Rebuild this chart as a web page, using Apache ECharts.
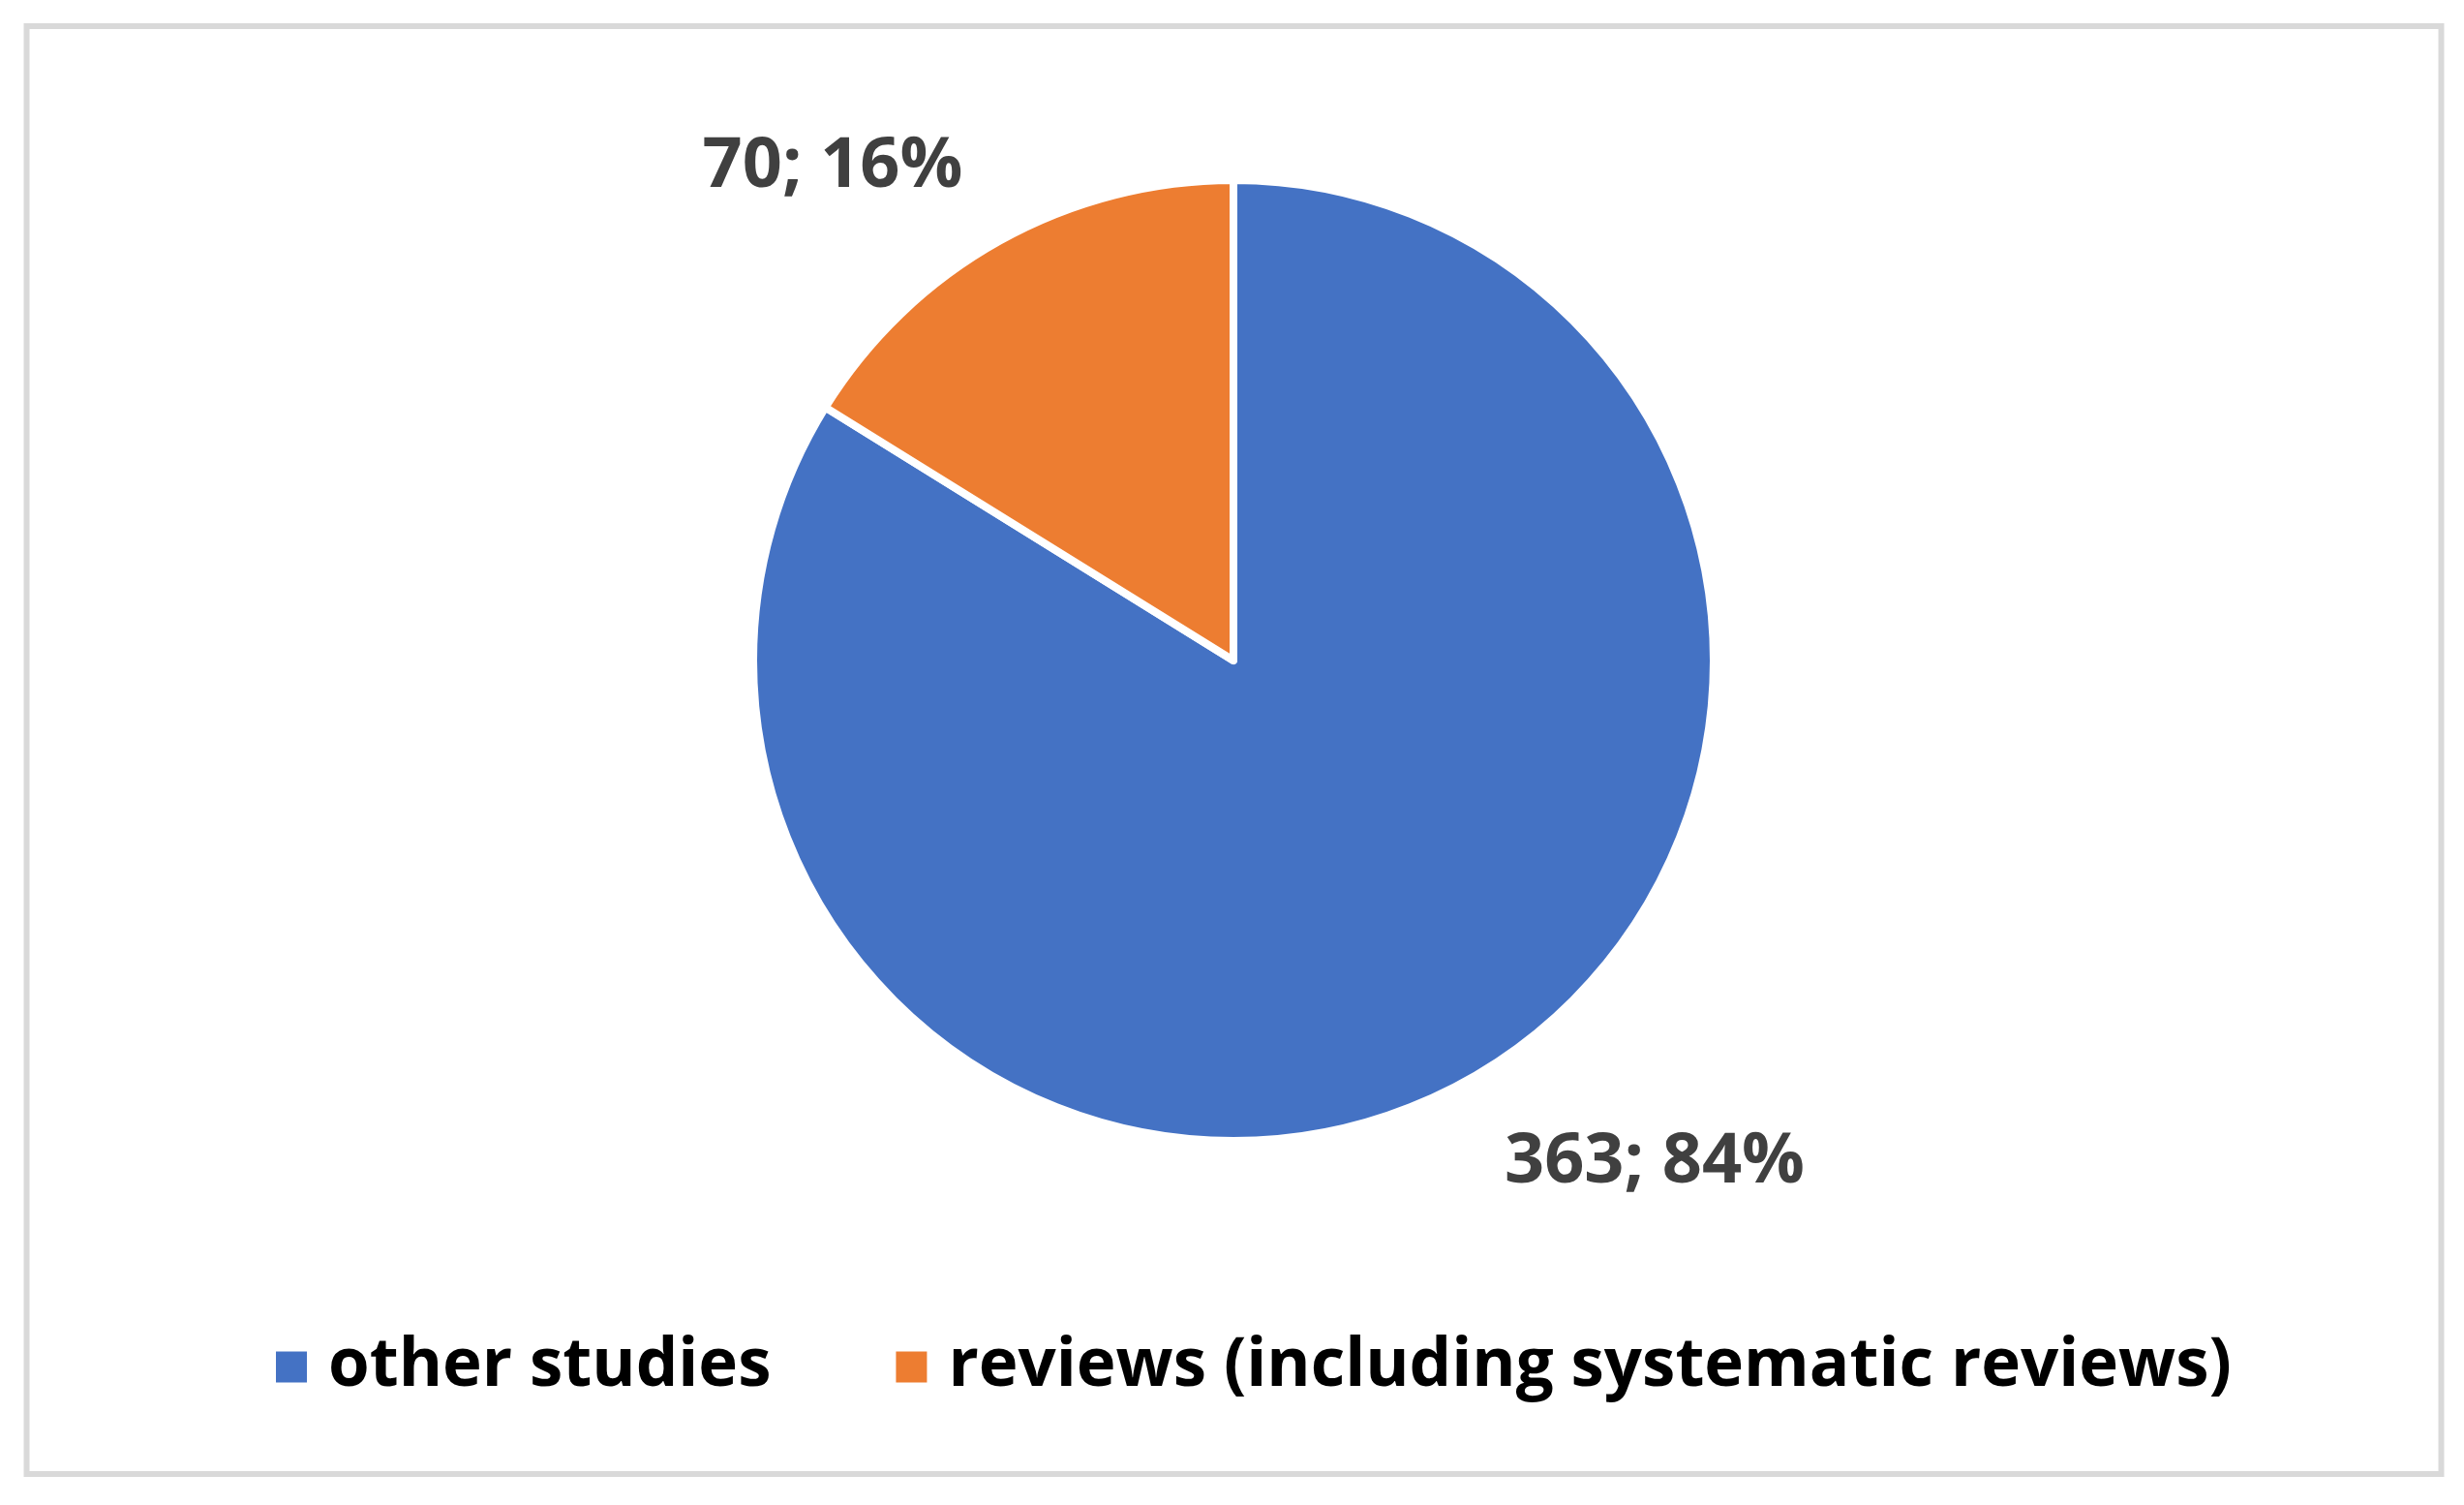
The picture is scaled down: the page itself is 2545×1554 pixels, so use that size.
<!DOCTYPE html>
<html>
<head>
<meta charset="utf-8">
<script src="https://cdn.jsdelivr.net/npm/echarts@6/dist/echarts.min.js"></script>
<style>
html,body{margin:0;padding:0;background:#fff;}
#chart{width:2545px;height:1554px;}
</style>
</head>
<body>
<div id="chart"></div>
<script>
const categories = ['other studies', 'reviews (including systematic reviews)'];
const values = [363, 70];
const colors = ['#4472C4', '#ED7D31'];

const FONT = '"Open Sans", "Noto Sans", sans-serif';
const labelPos = [[1709, 1200], [860, 172]];

const chart = echarts.init(document.getElementById('chart'), null, {renderer: 'canvas'});
chart.setOption({
  backgroundColor: '#ffffff',
  animation: false,
  graphic: [{
    type: 'rect',
    shape: {x: 27.5, y: 27, width: 2494, height: 1495},
    style: {fill: 'none', stroke: '#d9d9d9', lineWidth: 6},
    silent: true
  }],
  legend: {
    data: categories,
    left: 278,
    top: 1372,
    icon: 'rect',
    itemWidth: 34,
    itemHeight: 34,
    itemGap: 127,
    textStyle: {
      fontFamily: FONT,
      fontSize: 69,
      fontWeight: 'bold',
      color: '#000000',
      padding: [0, 0, 0, 16]
    }
  },
  series: [{
    type: 'pie',
    center: [1274, 682],
    radius: [0, 496],
    startAngle: 90,
    clockwise: true,
    percentPrecision: 0,
    data: categories.map((c, i) => ({name: c, value: values[i], itemStyle: {color: colors[i]}})),
    itemStyle: {borderColor: '#ffffff', borderWidth: 8},
    label: {
      show: true,
      position: 'outside',
      formatter: '{c}; {d}%',
      fontFamily: FONT,
      fontSize: 72,
      fontWeight: 'bold',
      color: '#404040'
    },
    labelLine: {show: false},
    labelLayout: function (params) {
      const p = labelPos[params.dataIndex];
      return {x: p[0], y: p[1], align: 'center', verticalAlign: 'middle'};
    },
    emphasis: {disabled: true}
  }]
});
</script>
</body>
</html>
